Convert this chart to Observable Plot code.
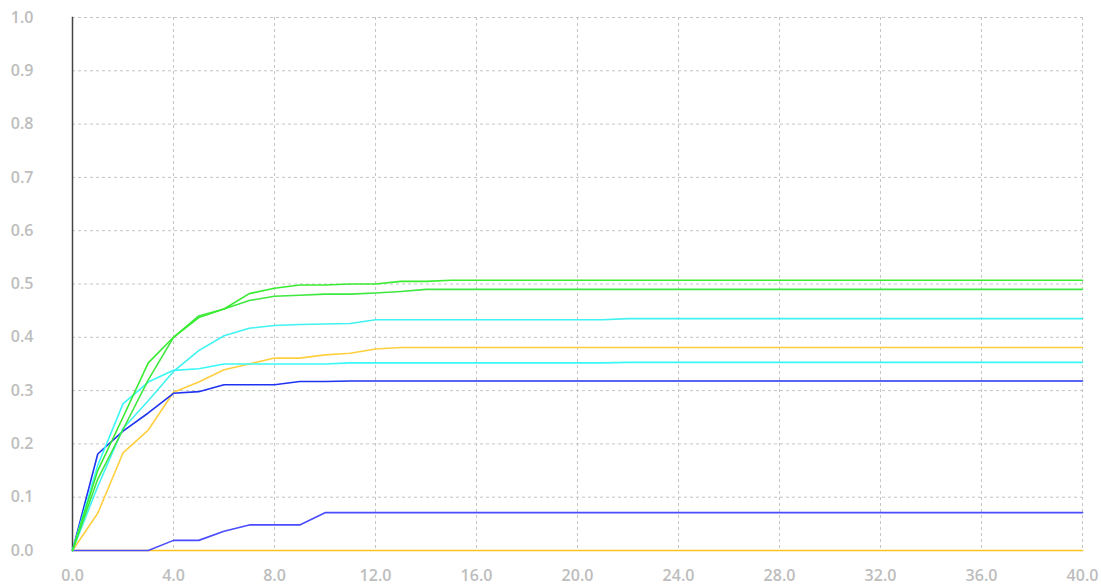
<!DOCTYPE html>
<html>
<head>
<meta charset="utf-8">
<script src="https://cdn.jsdelivr.net/npm/d3@7"></script>
<script src="https://cdn.jsdelivr.net/npm/@observablehq/plot@0.6"></script>
<style>
  html, body { margin: 0; padding: 0; background: #fff; }
  #chart svg { display: block; }
</style>
</head>
<body>
<div id="chart"></div>
<script>
// x positions (0..40)
const xs = [0,1,2,3,4,5,6,7,8,9,10,11,12,13,14,15,16,17,18,19,20,21,22,23,24,25,26,27,28,29,30,31,32,33,34,35,36,37,38,39,40];

const xTicks = [0,4,8,12,16,20,24,28,32,36,40];
const yTicks = [0,0.1,0.2,0.3,0.4,0.5,0.6,0.7,0.8,0.9,1.0];

const seriesNames  = ["yellowB","blueB","yellowA","blueA","cyanB","cyanA","greenB","greenA"];
const seriesColors = ["#ffc21a","#4a4cff","#ffcf40","#1f33f2","#38f8f8","#40f2f2","#3ee83e","#38ec30"];

const greenA  = [0,0.150,0.250,0.352,0.400,0.437,0.453,0.482,0.492,0.498,0.498,0.500,0.500,0.505,0.505,0.507,0.507,0.507,0.507,0.507,0.507,0.507,0.507,0.507,0.507,0.507,0.507,0.507,0.507,0.507,0.507,0.507,0.507,0.507,0.507,0.507,0.507,0.507,0.507,0.507,0.507];
const greenB  = [0,0.134,0.227,0.320,0.400,0.440,0.453,0.469,0.477,0.479,0.481,0.481,0.483,0.486,0.490,0.490,0.490,0.490,0.490,0.490,0.490,0.490,0.490,0.490,0.490,0.490,0.490,0.490,0.490,0.490,0.490,0.490,0.490,0.490,0.490,0.490,0.490,0.490,0.490,0.490,0.490];
const cyanA   = [0,0.120,0.229,0.281,0.336,0.375,0.403,0.417,0.422,0.424,0.425,0.426,0.433,0.433,0.433,0.433,0.433,0.433,0.433,0.433,0.433,0.433,0.435,0.435,0.435,0.435,0.435,0.435,0.435,0.435,0.435,0.435,0.435,0.435,0.435,0.435,0.435,0.435,0.435,0.435,0.435];
const cyanB   = [0,0.160,0.275,0.316,0.338,0.341,0.350,0.350,0.350,0.350,0.350,0.352,0.352,0.352,0.352,0.352,0.352,0.352,0.352,0.352,0.352,0.352,0.353,0.353,0.353,0.353,0.353,0.353,0.353,0.353,0.353,0.353,0.353,0.353,0.353,0.353,0.353,0.353,0.353,0.353,0.353];
const yellowA = [0,0.070,0.183,0.226,0.297,0.316,0.339,0.350,0.361,0.361,0.367,0.370,0.378,0.381,0.381,0.381,0.381,0.381,0.381,0.381,0.381,0.381,0.381,0.381,0.381,0.381,0.381,0.381,0.381,0.381,0.381,0.381,0.381,0.381,0.381,0.381,0.381,0.381,0.381,0.381,0.381];
const blueA   = [0,0.181,0.224,0.258,0.295,0.298,0.311,0.311,0.311,0.317,0.317,0.318,0.318,0.318,0.318,0.318,0.318,0.318,0.318,0.318,0.318,0.318,0.318,0.318,0.318,0.318,0.318,0.318,0.318,0.318,0.318,0.318,0.318,0.318,0.318,0.318,0.318,0.318,0.318,0.318,0.318];
const blueB   = [0,0,0,0,0.019,0.019,0.036,0.048,0.048,0.048,0.071,0.071,0.071,0.071,0.071,0.071,0.071,0.071,0.071,0.071,0.071,0.071,0.071,0.071,0.071,0.071,0.071,0.071,0.071,0.071,0.071,0.071,0.071,0.071,0.071,0.071,0.071,0.071,0.071,0.071,0.071];
const yellowB = [0,0,0,0,0,0,0,0,0,0,0,0,0,0,0,0,0,0,0,0,0,0,0,0,0,0,0,0,0,0,0,0,0,0,0,0,0,0,0,0,0];

const seriesValues = {yellowB, blueB, yellowA, blueA, cyanB, cyanA, greenB, greenA};

const rows = [];
for (const name of seriesNames) {
  seriesValues[name].forEach((v, i) => rows.push({series: name, x: xs[i], y: v}));
}

const chart = Plot.plot({
  width: 1101,
  height: 586,
  marginLeft: 72,
  marginRight: 19,
  marginTop: 17,
  marginBottom: 36,
  style: {background: "#fff", fontFamily: "'Open Sans', sans-serif", fontSize: "16px"},
  x: {domain: [0, 40]},
  y: {domain: [0, 1]},
  color: {domain: seriesNames, range: seriesColors},
  marks: [
    Plot.gridX(xTicks, {stroke: "#c4c4c4", strokeOpacity: 1, strokeDasharray: "3,3"}),
    Plot.gridY(yTicks, {stroke: "#c4c4c4", strokeOpacity: 1, strokeDasharray: "3,3"}),
    Plot.axisX(xTicks, {tickSize: 0, tickPadding: 19, tickFormat: d3.format(".1f"), fill: "#bdbdbd", fontSize: 16, fontWeight: 600, label: null}),
    Plot.axisY(yTicks, {tickSize: 0, tickPadding: 39, tickFormat: d3.format(".1f"), fill: "#bdbdbd", fontSize: 16, fontWeight: 600, label: null}),
    Plot.frame({anchor: "left", stroke: "#444", strokeWidth: 1.5}),
    Plot.line(rows, {x: "x", y: "y", z: "series", stroke: "series", strokeWidth: 1.6, curve: "linear"})
  ]
});

document.getElementById("chart").appendChild(chart);
</script>
</body>
</html>
